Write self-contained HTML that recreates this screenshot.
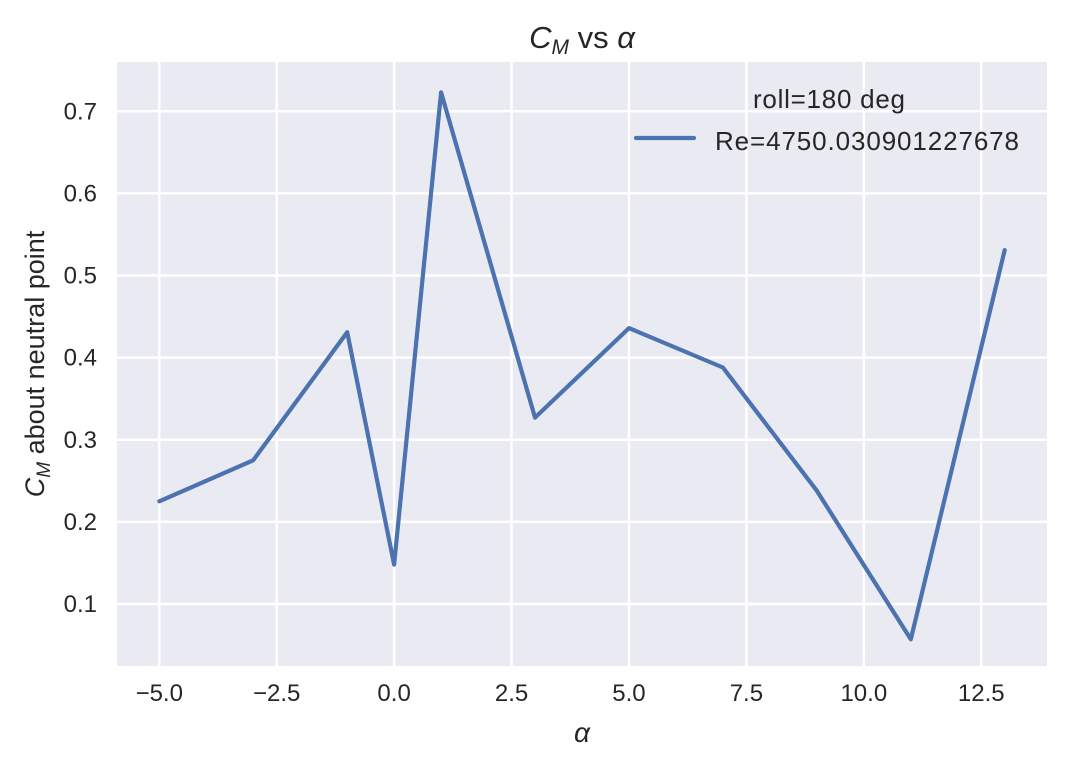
<!DOCTYPE html>
<html><head><meta charset="utf-8"><style>
body{margin:0;background:#fff;}
svg text{font-family:"Liberation Sans","DejaVu Sans",sans-serif;fill:#262626;}
</style></head><body>
<svg id="chart" width="1067" height="769" viewBox="0 0 1067 769" xmlns="http://www.w3.org/2000/svg">
<rect x="0" y="0" width="1067" height="769" fill="#fff"/>
<rect x="117" y="62" width="930" height="604" fill="#eaeaf2"/>
<g id="grid"></g>
<g id="xticks"></g>
<g id="yticks"></g>
<path id="series" fill="none" stroke="#4c72b0" stroke-width="4.2" stroke-linejoin="round" stroke-linecap="round"/>
<text x="582" y="48" font-size="31" text-anchor="middle"><tspan font-style="italic">C</tspan><tspan font-style="italic" font-size="21" dy="6">M</tspan><tspan dy="-6"> vs </tspan><tspan font-style="italic">α</tspan></text>
<text x="582" y="742" font-size="28" text-anchor="middle" font-style="italic">α</text>
<text transform="translate(44,364) rotate(-90)" font-size="27" text-anchor="middle"><tspan font-style="italic">C</tspan><tspan font-style="italic" font-size="19" dy="6">M</tspan><tspan dy="-6"> about neutral point</tspan></text>
<g>
<text x="829" y="108" font-size="26" text-anchor="middle" textLength="152">roll=180 deg</text>
<line x1="636" y1="138" x2="694" y2="138" stroke="#4c72b0" stroke-width="4.2" stroke-linecap="round"/>
<text x="715" y="150" font-size="26" textLength="304">Re=4750.030901227678</text>
</g>
</svg>
<script>
const alphaValues=[-5,-3,-1,0,1,3,5,7,9,11,13];
const cmValues=[0.225,0.275,0.431,0.148,0.723,0.327,0.436,0.388,0.238,0.057,0.531];
const xTickValues=[-5,-2.5,0,2.5,5,7.5,10,12.5];
const xTickLabels=["−5.0","−2.5","0.0","2.5","5.0","7.5","10.0","12.5"];
const yTickValues=[0.1,0.2,0.3,0.4,0.5,0.6,0.7];
const yTickLabels=["0.1","0.2","0.3","0.4","0.5","0.6","0.7"];
const NS="http://www.w3.org/2000/svg";
const X0=117,X1=1047,Y0=666,Y1=62,xmin=-5.9,xmax=13.9,ymin=0.0245,ymax=0.76;
const xs=v=>X0+(v-xmin)/(xmax-xmin)*(X1-X0);
const ys=v=>Y0-(v-ymin)/(ymax-ymin)*(Y0-Y1);
const grid=document.getElementById('grid'),xt=document.getElementById('xticks'),yt=document.getElementById('yticks');
xTickValues.forEach((v,i)=>{
 const l=document.createElementNS(NS,'line');
 l.setAttribute('x1',xs(v));l.setAttribute('x2',xs(v));l.setAttribute('y1',Y1);l.setAttribute('y2',Y0);
 l.setAttribute('stroke','#fff');l.setAttribute('stroke-width','2.5');
 
 
 grid.appendChild(l);
 const t=document.createElementNS(NS,'text');
 t.setAttribute('x',xs(v));t.setAttribute('y',Y0+35);t.setAttribute('font-size','24');t.setAttribute('text-anchor','middle');
 t.textContent=xTickLabels[i];
 
 
 xt.appendChild(t);
});
yTickValues.forEach((v,i)=>{
 const l=document.createElementNS(NS,'line');
 l.setAttribute('x1',X0);l.setAttribute('x2',X1);l.setAttribute('y1',ys(v));l.setAttribute('y2',ys(v));
 l.setAttribute('stroke','#fff');l.setAttribute('stroke-width','2.5');
 
 
 grid.appendChild(l);
 const t=document.createElementNS(NS,'text');
 t.setAttribute('x',X0-20);t.setAttribute('y',ys(v)+8);t.setAttribute('font-size','24');t.setAttribute('text-anchor','end');
 t.textContent=yTickLabels[i];
 
 
 yt.appendChild(t);
});
document.getElementById('series').setAttribute('d',alphaValues.map((a,i)=>(i?'L':'M')+xs(a).toFixed(1)+','+ys(cmValues[i]).toFixed(1)).join(' '));
</script>
</body></html>
